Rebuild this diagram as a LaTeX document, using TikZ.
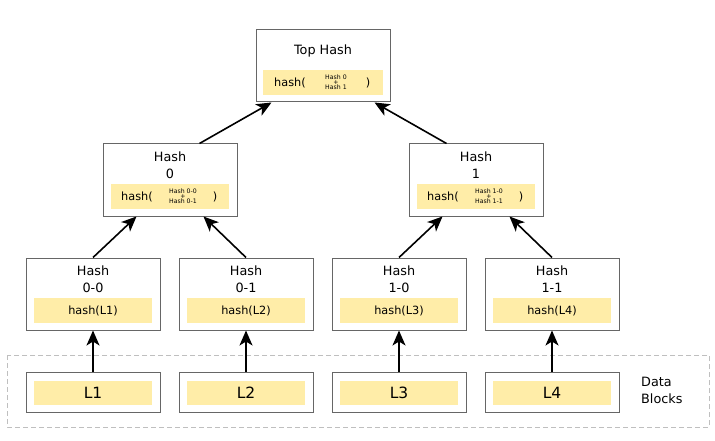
\documentclass[tikz,border=0pt]{standalone}
\usepackage{fontspec}
\setmainfont{DejaVu Sans}
\usetikzlibrary{arrows.meta}
\definecolor{hy}{HTML}{FFEDA8}
\definecolor{bd}{HTML}{666666}
\tikzset{
  hbox/.style={draw=bd, line width=1pt, fill=white, minimum width=134pt, minimum height=72pt, inner sep=0pt},
  lbox/.style={draw=bd, line width=1pt, fill=white, minimum width=134pt, minimum height=40pt, inner sep=0pt},
  ybar/.style={fill=hy, minimum width=118pt, minimum height=25pt, inner sep=0pt},
  big/.style={font=\fontsize{12.8}{17}\selectfont, align=center, inner sep=0pt},
  mid/.style={font=\fontsize{11.3}{13}\selectfont, inner sep=0pt},
  tiny/.style={font=\fontsize{6.2}{5}\selectfont, align=center, inner sep=0pt},
  arr/.style={-{Stealth[length=15pt,width=13pt,inset=4pt]}, line width=1.6pt, black}
}
\begin{document}
\begin{tikzpicture}[x=1pt,y=-1pt]
\useasboundingbox (0,0) rectangle (715,441);
\fill[white] (0,0) rectangle (715,441);
% data block region
\draw[draw=black!25, line width=0.8pt, dash pattern=on 5pt off 3pt] (7,355) rectangle (709,427);
\node[big, anchor=west, align=left] (db) at (641,390) {Data\\Blocks};

% top
\node[hbox] (top) at (323,66) {};
\node[ybar, minimum width=120pt] (topy) at (323,82.5) {};
\node[big] (toplbl) at (323,51) {Top Hash};
\node[mid] (toph) at (290,82.5) {hash(};
\node[tiny] (topt) at (336,82.5) {Hash 0\\+\\Hash 1};
\node[mid] (topp) at (368,82.5) {)};

% level 1
\foreach \nm/\x/\lab/\a/\b in {h0/170/0/0-0/0-1, h1/476/1/1-0/1-1}{
  \node[hbox] (\nm) at (\x,180) {};
  \node[ybar] (\nm y) at (\x,196.5) {};
  \node[big] (\nm l) at (\x,165.5) {Hash\\\lab};
  \node[mid] (\nm h) at (\x-33,196.5) {hash(};
  \node[tiny] (\nm t) at (\x+13,196.5) {Hash \a\\+\\Hash \b};
  \node[mid] (\nm p) at (\x+45,196.5) {)};
}

% level 2 and leaves
\foreach \nm/\x/\lab/\L in {a/93/0-0/L1, b/246/0-1/L2, c/399/1-0/L3, d/552/1-1/L4}{
  \node[hbox] (\nm) at (\x,294) {};
  \node[ybar] (\nm y) at (\x,310.5) {};
  \node[big] (\nm l) at (\x,279.5) {Hash\\\lab};
  \node[mid] (\nm h) at (\x,311) {hash(\L)};
  \node[lbox] (\nm L) at (\x,392) {};
  \node[ybar, minimum height=24pt] (\nm Ly) at (\x,393) {};
  \node[big, font=\fontsize{15.5}{17}\selectfont] (\nm Lt) at (\x,393) {\L};
  \draw[arr] (\nm L.north) -- (\nm.south);
}

% arrows
\draw[arr] ([xshift=97pt]h0.north west) -- ([xshift=16pt]top.south west);
\draw[arr] ([xshift=-97pt]h1.north east) -- ([xshift=-16pt]top.south east);
\draw[arr] (a.north) -- ([xshift=34pt]h0.south west);
\draw[arr] (b.north) -- ([xshift=-34pt]h0.south east);
\draw[arr] (c.north) -- ([xshift=34pt]h1.south west);
\draw[arr] (d.north) -- ([xshift=-34pt]h1.south east);
\end{tikzpicture}
\end{document}
